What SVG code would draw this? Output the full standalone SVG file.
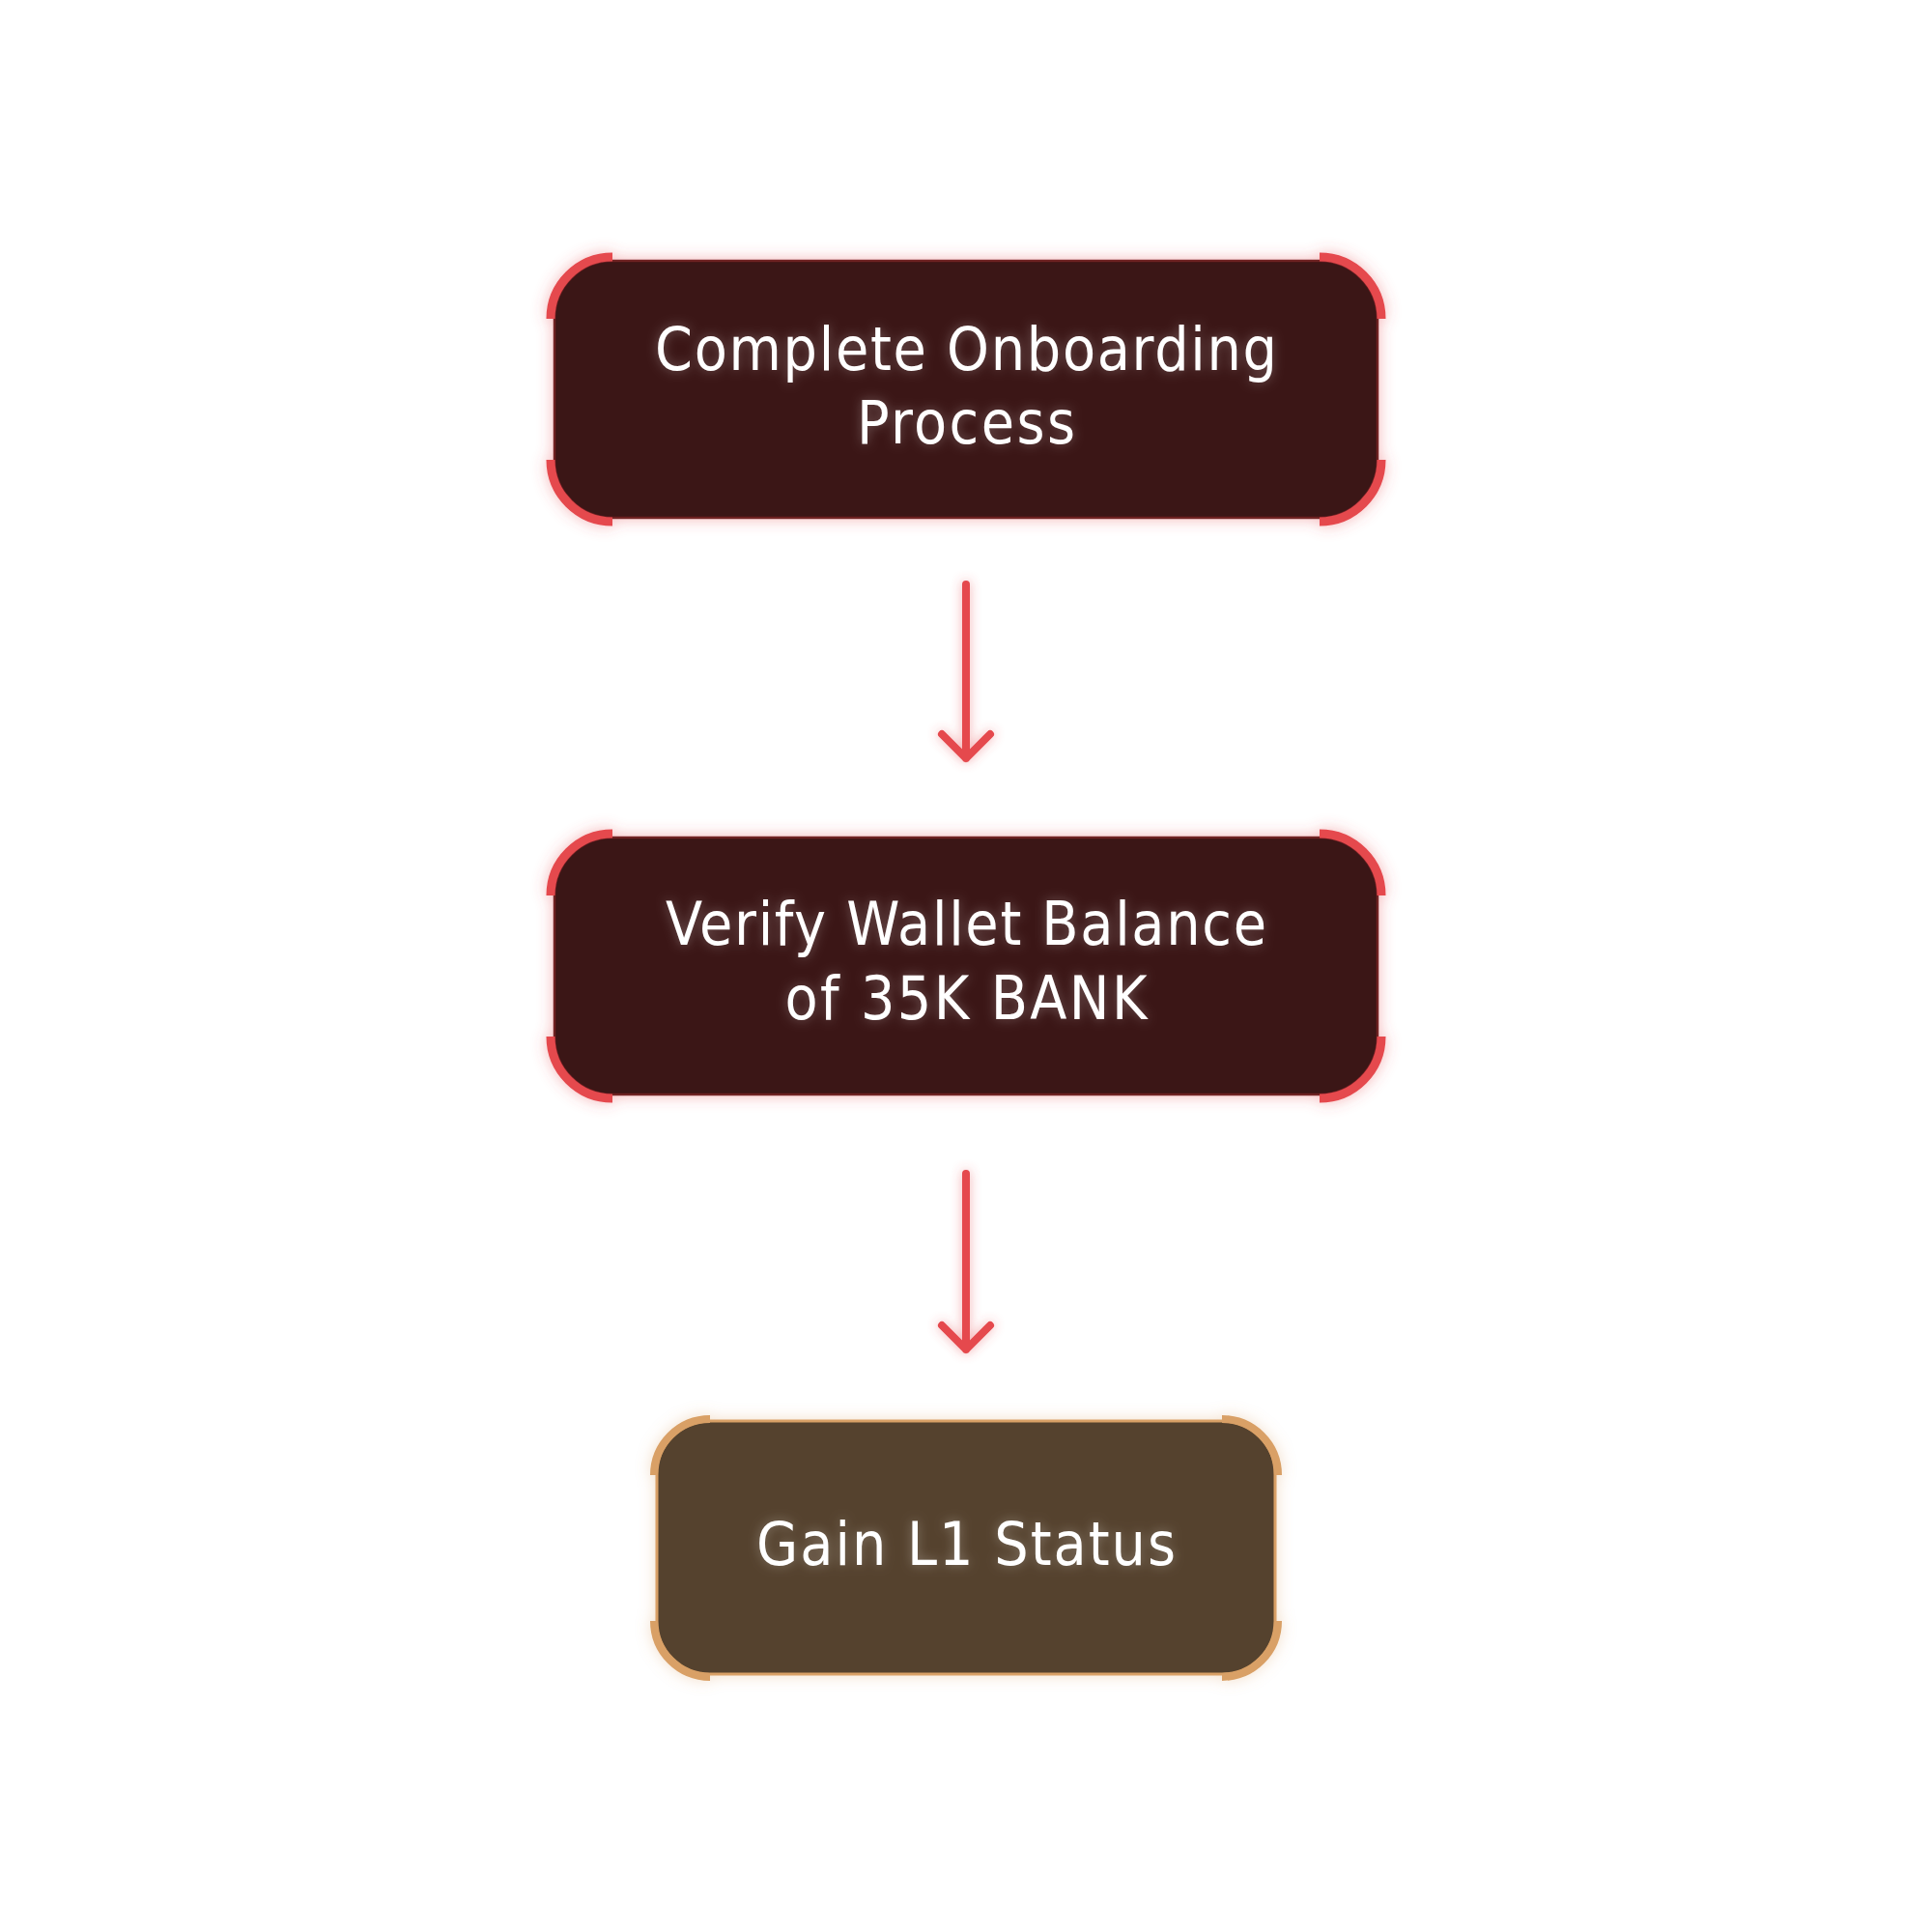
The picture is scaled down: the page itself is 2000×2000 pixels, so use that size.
<svg xmlns="http://www.w3.org/2000/svg" width="2000" height="2000" viewBox="0 0 2000 2000">
  <defs>
    <filter id="glowRed" x="-20%" y="-30%" width="140%" height="160%">
      <feGaussianBlur in="SourceAlpha" stdDeviation="8" result="b"/>
      <feFlood flood-color="#e5484d" flood-opacity="0.4"/>
      <feComposite in2="b" operator="in" result="g"/>
      <feMerge><feMergeNode in="g"/><feMergeNode in="SourceGraphic"/></feMerge>
    </filter>
    <filter id="glowTan" x="-20%" y="-30%" width="140%" height="160%">
      <feGaussianBlur in="SourceAlpha" stdDeviation="8" result="b"/>
      <feFlood flood-color="#d9a066" flood-opacity="0.35"/>
      <feComposite in2="b" operator="in" result="g"/>
      <feMerge><feMergeNode in="g"/><feMergeNode in="SourceGraphic"/></feMerge>
    </filter>
    <filter id="glowText" x="-20%" y="-50%" width="140%" height="200%">
      <feGaussianBlur in="SourceAlpha" stdDeviation="6" result="b"/>
      <feFlood flood-color="#ffffff" flood-opacity="0.3"/>
      <feComposite in2="b" operator="in" result="g"/>
      <feMerge><feMergeNode in="g"/><feMergeNode in="SourceGraphic"/></feMerge>
    </filter>
    <filter id="glowArrow" x="-200%" y="-20%" width="500%" height="140%">
      <feGaussianBlur in="SourceAlpha" stdDeviation="6" result="b"/>
      <feFlood flood-color="#e5484d" flood-opacity="0.45"/>
      <feComposite in2="b" operator="in" result="g"/>
      <feMerge><feMergeNode in="g"/><feMergeNode in="SourceGraphic"/></feMerge>
    </filter>
  </defs>
  <style>
    .box-red { fill: #3b1314; stroke: #6e2224; stroke-width: 2.5; }
    .box-tan { fill: #54422e; stroke: #d9a066; stroke-width: 3; }
    .acc-red { fill: none; stroke: #e5484d; stroke-width: 9; stroke-linecap: butt; }
    .acc-tan { fill: none; stroke: #d9a066; stroke-width: 8; stroke-linecap: butt; }
    .label { fill: #ffffff; font-family: "Liberation Sans Narrow", "DejaVu Sans Condensed", "Liberation Sans", sans-serif; font-size: 62px; text-anchor: middle; }
    .conn { fill: none; stroke: #e5484d; stroke-width: 8; stroke-linecap: round; stroke-linejoin: round; }
  </style>
  <rect x="0" y="0" width="2000" height="2000" fill="#ffffff"/>

  <g id="connectors" filter="url(#glowArrow)">
    <path class="conn" d="M1000,605 L1000,785 M975,760 L1000,785 L1025,760"/>
    <path class="conn" d="M1000,1215 L1000,1397 M975,1372 L1000,1397 L1025,1372"/>
  </g>

  <g id="node-onboarding">
    <g filter="url(#glowRed)">
      <rect class="box-red" x="574" y="270" width="852" height="266" rx="60" ry="60"/>
      <path class="acc-red" d="M570,330 A64,64 0 0 1 634,266 M1366,266 A64,64 0 0 1 1430,330 M1430,476 A64,64 0 0 1 1366,540 M634,540 A64,64 0 0 1 570,476"/>
    </g>
    <g filter="url(#glowText)">
      <text class="label" x="1000" y="383" textLength="644" lengthAdjust="spacing">Complete Onboarding</text>
      <text class="label" x="1000" y="459" textLength="226" lengthAdjust="spacing">Process</text>
    </g>
  </g>

  <g id="node-verify">
    <g filter="url(#glowRed)">
      <rect class="box-red" x="574" y="867" width="852" height="266" rx="60" ry="60"/>
      <path class="acc-red" d="M570,927 A64,64 0 0 1 634,863 M1366,863 A64,64 0 0 1 1430,927 M1430,1073 A64,64 0 0 1 1366,1137 M634,1137 A64,64 0 0 1 570,1073"/>
    </g>
    <g filter="url(#glowText)">
      <text class="label" x="1000" y="978" textLength="622" lengthAdjust="spacing">Verify Wallet Balance</text>
      <text class="label" x="1000" y="1055" textLength="375" lengthAdjust="spacing">of 35K BANK</text>
    </g>
  </g>

  <g id="node-l1">
    <g filter="url(#glowTan)">
      <rect class="box-tan" x="680" y="1471" width="640" height="262" rx="55" ry="55"/>
      <path class="acc-tan" d="M677,1527 A58,58 0 0 1 735,1469 M1265,1469 A58,58 0 0 1 1323,1527 M1323,1678 A58,58 0 0 1 1265,1736 M735,1736 A58,58 0 0 1 677,1678"/>
    </g>
    <g filter="url(#glowText)">
      <text class="label" x="1000" y="1620" textLength="434" lengthAdjust="spacing">Gain L1 Status</text>
    </g>
  </g>
</svg>
